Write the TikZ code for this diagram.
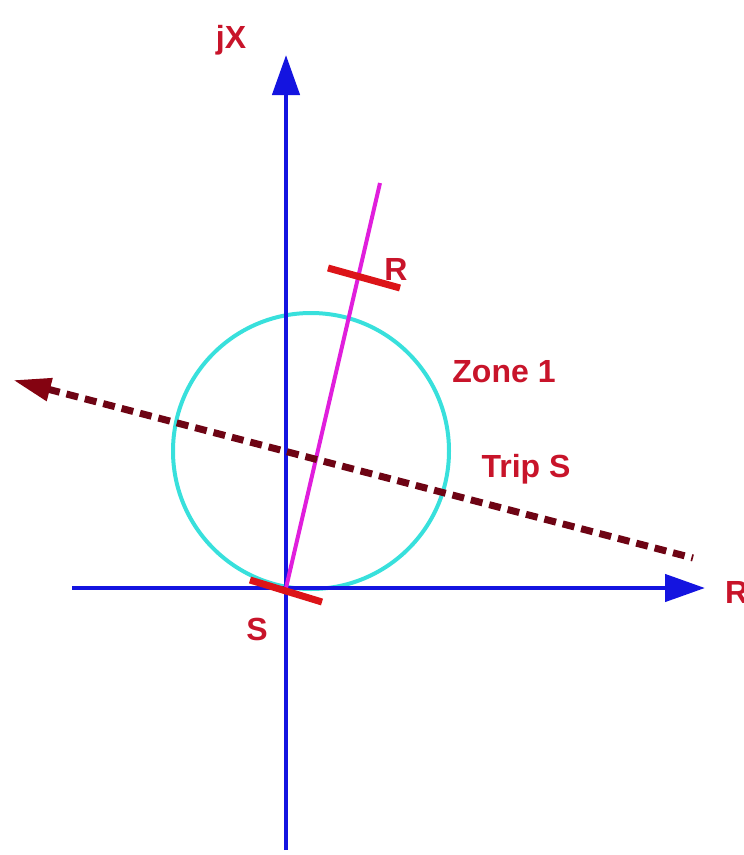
\documentclass[tikz,border=0pt]{standalone}
\usepackage{fontspec}
\setmainfont{Liberation Sans}
\usetikzlibrary{arrows.meta}
\definecolor{axisblue}{HTML}{1414E0}
\definecolor{zonecyan}{HTML}{38E0DC}
\definecolor{linemag}{HTML}{E01EDC}
\definecolor{tickred}{HTML}{DC1418}
\definecolor{tripmaroon}{HTML}{6E0414}
\definecolor{labelred}{HTML}{C8142A}
\tikzset{
  axisline/.style={draw=axisblue, line width=4.5pt, -{Triangle[length=40pt,width=27pt]}},
  zonecircle/.style={draw=zonecyan, line width=4pt},
  impline/.style={draw=linemag, line width=4pt},
  tickmark/.style={draw=tickred, line width=7pt},
  tripline/.style={draw=tripmaroon, line width=7pt, dash pattern=on 12pt off 7pt,
    {Triangle[length=38pt,width=22pt,color=tripmaroon!85!red]}-},
  lbl/.style={text=labelred, font=\bfseries\fontsize{32}{32}\selectfont, inner sep=0pt, anchor=base}
}
\begin{document}
\begin{tikzpicture}[x=1pt,y=-1pt]
\useasboundingbox (0,0) rectangle (744,855);
% coordinates
\coordinate (O) at (286,588);
\coordinate (ybot) at (286,850);
\coordinate (ytop) at (286,55);
\coordinate (xleft) at (72,588);
\coordinate (xright) at (705,588);
\coordinate (C) at (311,451);
\coordinate (mtop) at (380,183);
\coordinate (ra) at (328,268);
\coordinate (rb) at (400,288);
\coordinate (sa) at (250,580);
\coordinate (sb) at (322,602);
\coordinate (tend) at (693,558);
\coordinate (ttip) at (13,380);
% zone circle
\node[zonecircle, circle, minimum size=276pt, inner sep=0pt] (zone) at (C) {};
% axes
\draw[axisline] (ybot) -- (ytop);
\draw[axisline] (xleft) -- (xright);
% impedance line
\draw[impline] (O) -- (mtop);
% trip characteristic
\draw[tripline] (ttip) -- (tend);
% ticks
\draw[tickmark] (ra) -- (rb);
\draw[tickmark] (sa) -- (sb);
% labels
\node[lbl] (ljx) at (231,48) {jX};
\node[lbl] (lr1) at (396,280) {R};
\node[lbl] (lzone) at (504,382) {Zone 1};
\node[lbl] (ltrip) at (526,477) {Trip S};
\node[lbl, anchor=base west] (lr2) at (725,603) {R};
\node[lbl] (ls) at (257,640) {S};
\end{tikzpicture}
\end{document}
